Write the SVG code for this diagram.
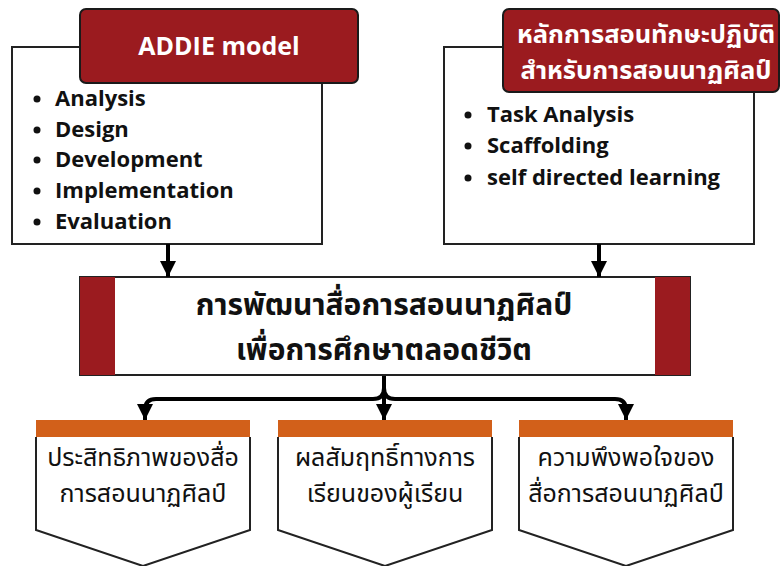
<svg xmlns="http://www.w3.org/2000/svg" width="782" height="566" viewBox="0 0 782 566">
  <defs>
    <marker id="arrow" viewBox="0 0 10 10" refX="10" refY="5" markerWidth="4" markerHeight="4" markerUnits="strokeWidth" orient="auto">
      <path d="M0,0 L10,5 L0,10 Z" fill="#000"/>
    </marker>
    <style>
      .panel { fill: #fff; stroke: #222; stroke-width: 2; }
      .header { fill: #9b1b1f; stroke: #1a1a1a; stroke-width: 2; }
      .hdr-text { font-family: "Open Sans", "Noto Sans Thai", "Noto Sans", sans-serif; font-weight: 700; fill: #fff; text-anchor: middle; }
      .item { font-family: "Open Sans", "Noto Sans", sans-serif; font-weight: 700; font-size: 22px; fill: #111; }
      .dot { fill: #111; }
      .main-text { font-family: "Noto Sans Thai", "Noto Sans", sans-serif; font-weight: 700; font-size: 30px; fill: #111; text-anchor: middle; }
      .out-text { font-family: "Noto Sans Thai", "Noto Sans", sans-serif; font-weight: 400; font-size: 25px; fill: #111; text-anchor: middle; }
      .bar { fill: #d2601a; }
      .wire { fill: none; stroke: #000; stroke-width: 4; stroke-linejoin: round; }
    </style>
  </defs>

  <rect width="782" height="566" fill="#fff"/>

  <!-- ADDIE model panel -->
  <g id="addie">
    <rect class="panel" x="12" y="47" width="310" height="197"/>
    <rect class="header" x="80" y="9" width="278" height="74" rx="6"/>
    <text class="hdr-text" x="219" y="55" font-size="25">ADDIE model</text>
    <g class="item">
      <circle class="dot" cx="37" cy="99" r="3.5"/>
      <text x="55" y="106">Analysis</text>
      <circle class="dot" cx="37" cy="130" r="3.5"/>
      <text x="55" y="137">Design</text>
      <circle class="dot" cx="37" cy="160" r="3.5"/>
      <text x="55" y="167">Development</text>
      <circle class="dot" cx="37" cy="191" r="3.5"/>
      <text x="55" y="198">Implementation</text>
      <circle class="dot" cx="37" cy="222" r="3.5"/>
      <text x="55" y="229">Evaluation</text>
    </g>
  </g>

  <!-- Practical-skill teaching principles panel -->
  <g id="principles">
    <rect class="panel" x="444" y="47" width="310" height="197"/>
    <rect class="header" x="503" y="9" width="276" height="83" rx="6"/>
    <text class="hdr-text" x="646" y="43" font-size="25.5">หลักการสอนทักษะปฏิบัติ</text>
    <text class="hdr-text" x="646" y="79" font-size="25.5">สำหรับการสอนนาฏศิลป์</text>
    <g class="item">
      <circle class="dot" cx="468" cy="115" r="3.5"/>
      <text x="487" y="122">Task Analysis</text>
      <circle class="dot" cx="468" cy="146" r="3.5"/>
      <text x="487" y="153">Scaffolding</text>
      <circle class="dot" cx="468" cy="178" r="3.5"/>
      <text x="487" y="185">self directed learning</text>
    </g>
  </g>

  <!-- Central development box -->
  <g id="media-development">
    <rect x="80" y="277" width="610" height="98" fill="#fff" stroke="#222" stroke-width="2"/>
    <rect x="80" y="277" width="35" height="98" fill="#9b1b1f"/>
    <rect x="655" y="277" width="35" height="98" fill="#9b1b1f"/>
    <text class="main-text" x="384" y="315">การพัฒนาสื่อการสอนนาฏศิลป์</text>
    <text class="main-text" x="384" y="360">เพื่อการศึกษาตลอดชีวิต</text>
  </g>

  <!-- Outcome boxes -->
  <g id="efficiency">
    <path class="panel" d="M36 437 V530 L143 566 L250 530 V437"/>
    <rect class="bar" x="36" y="420" width="214" height="17"/>
    <text class="out-text" x="143" y="466">ประสิทธิภาพของสื่อ</text>
    <text class="out-text" x="143" y="502">การสอนนาฏศิลป์</text>
  </g>
  <g id="achievement">
    <path class="panel" d="M278 437 V530 L385 566 L492 530 V437"/>
    <rect class="bar" x="278" y="420" width="214" height="17"/>
    <text class="out-text" x="385" y="466">ผลสัมฤทธิ์ทางการ</text>
    <text class="out-text" x="385" y="502">เรียนของผู้เรียน</text>
  </g>
  <g id="satisfaction">
    <path class="panel" d="M519 437 V530 L626 566 L733 530 V437"/>
    <rect class="bar" x="519" y="420" width="214" height="17"/>
    <text class="out-text" x="626" y="466">ความพึงพอใจของ</text>
    <text class="out-text" x="626" y="502">สื่อการสอนนาฏศิลป์</text>
  </g>

  <!-- Connectors -->
  <g id="connectors">
    <path class="wire" d="M168 244 V277" marker-end="url(#arrow)"/>
    <path class="wire" d="M599 244 V277" marker-end="url(#arrow)"/>
    <path class="wire" d="M384 376 V388 Q384 399 373 399 H156 Q145 399 145 410 V420" marker-end="url(#arrow)"/>
    <path class="wire" d="M384 388 Q384 399 395 399 H615 Q626 399 626 410 V420" marker-end="url(#arrow)"/>
    <path class="wire" d="M384 388 V420" marker-end="url(#arrow)"/>
  </g>
</svg>
